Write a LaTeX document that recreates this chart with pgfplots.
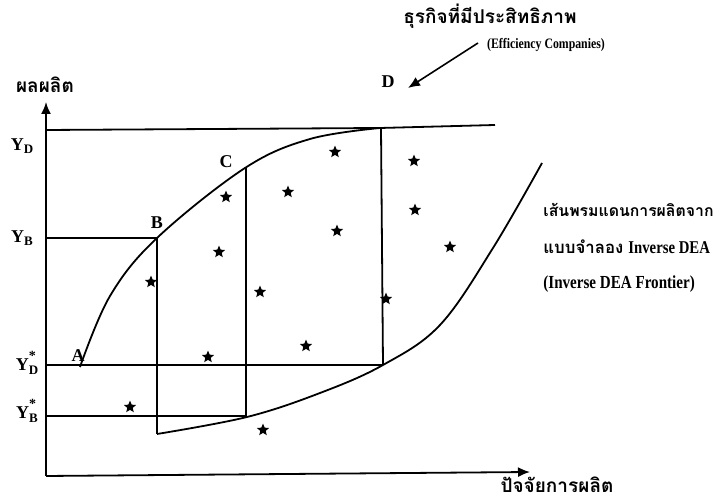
\documentclass[border=0pt]{standalone}
\usepackage{fontspec}
\setmainfont{Liberation Serif}
\newfontfamily\cond[FakeStretch=0.82]{Liberation Serif}
\newfontfamily\thaifont[Script=Thai]{Loma}
\usepackage{pgfplots}
\pgfplotsset{compat=1.18}
\usetikzlibrary{arrows.meta}

% filled five-pointed star
\pgfdeclareplotmark{fstar}{%
  \pgfpathmoveto{\pgfpointpolar{90}{\pgfplotmarksize}}%
  \pgfpathlineto{\pgfpointpolar{126}{0.45\pgfplotmarksize}}%
  \pgfpathlineto{\pgfpointpolar{162}{\pgfplotmarksize}}%
  \pgfpathlineto{\pgfpointpolar{198}{0.45\pgfplotmarksize}}%
  \pgfpathlineto{\pgfpointpolar{234}{\pgfplotmarksize}}%
  \pgfpathlineto{\pgfpointpolar{270}{0.45\pgfplotmarksize}}%
  \pgfpathlineto{\pgfpointpolar{306}{\pgfplotmarksize}}%
  \pgfpathlineto{\pgfpointpolar{342}{0.45\pgfplotmarksize}}%
  \pgfpathlineto{\pgfpointpolar{18}{\pgfplotmarksize}}%
  \pgfpathlineto{\pgfpointpolar{54}{0.45\pgfplotmarksize}}%
  \pgfpathclose\pgfusepathqfill}

\newcommand{\lbl}[1]{{\fontsize{9}{9}\selectfont\bfseries #1}}
\newcommand{\sub}[1]{\raisebox{-0.45ex}{\fontsize{6.5}{6.5}\selectfont\bfseries #1}}
\newcommand{\yst}[1]{\lbl{Y\rlap{\raisebox{1.25ex}{\fontsize{7}{7}\selectfont *}}\sub{#1}}}
\newcommand{\thai}[1]{{\thaifont\bfseries #1}}

\begin{document}
\begin{tikzpicture}
\begin{axis}[
  scale only axis, width=359.5pt, height=250.5pt,
  xmin=0, xmax=719, ymin=0, ymax=501, y dir=reverse,
  hide axis, clip=false,
  ln/.style={black, solid, line width=0.9pt, no markers},
  arr/.style={ln, -{Latex[length=6pt,width=5pt]}}]
  % axes
  \addplot[arr] coordinates {(46,476)(46,102)};
  \addplot[arr] coordinates {(46,476)(530,472)};
  % top line Y_D
  \addplot[ln] coordinates {(46,130)(380,128)(495,125)};
  % efficient frontier A-B-C-D
  \addplot[ln, smooth, tension=0.6] coordinates {(80,367)(110,296)(157,238)(245,168)(310,139)(380,128)};
  % inverse DEA frontier
  \addplot[ln, smooth, tension=0.6] coordinates {(157,434)(247,417)(320,393)(383,365)(440,325)(493,248)(542,163)};
  % guide lines
  \addplot[ln] coordinates {(46,238)(157,238)};
  \addplot[ln] coordinates {(46,365)(383,365)};
  \addplot[ln] coordinates {(46,416)(247,416)};
  \addplot[ln] coordinates {(157,238)(157,434)};
  \addplot[ln] coordinates {(246,168)(246,416)};
  \addplot[ln] coordinates {(381,128)(383,365)};
  % arrow to D
  \addplot[arr, line width=0.8pt] coordinates {(478,43)(408,88)};
  % companies
  \addplot[only marks, black, mark=fstar, mark size=3.2pt] coordinates {
    (335,152)(414,161)(288,192)(226,197)(415,210)(337,231)(219,252)(450,247)
    (151,282)(260,292)(386,299)(208,357)(306,346)(130,407)(263,430)};
  % labels
  \node at (axis cs:45,85) {\thai{\fontsize{9.5}{9.5}\selectfont ผลผลิต}};
  \node at (axis cs:22,146) {\lbl{Y\sub{D}}};
  \node at (axis cs:22,238) {\lbl{Y\sub{B}}};
  \node at (axis cs:27,363) {\yst{D}};
  \node at (axis cs:27,411) {\yst{B}};
  \node at (axis cs:78,356) {\lbl{A}};
  \node at (axis cs:157,223) {\lbl{B}};
  \node at (axis cs:226,162) {\lbl{C}};
  \node at (axis cs:388,82) {\lbl{D}};
  \node at (axis cs:490,16) {\thai{\fontsize{9.5}{9.5}\selectfont ธุรกิจที่มีประสิทธิภาพ}};
  \node at (axis cs:546,45) {\cond\bfseries\fontsize{7.2}{7.2}\selectfont (Efficiency Companies)};
  \node[anchor=west, inner sep=0pt] at (axis cs:543,210) {\thai{\fontsize{7.9}{7.9}\selectfont เส้นพรมแดนการผลิตจาก}};
  \node[anchor=west, inner sep=0pt] at (axis cs:543,247) {\thai{\fontsize{8.4}{8.4}\selectfont แบบจำลอง} {\cond\bfseries\fontsize{9}{9}\selectfont Inverse DEA}};
  \node[anchor=west, inner sep=0pt] at (axis cs:543,284) {\cond\bfseries\fontsize{9.2}{9.2}\selectfont (Inverse DEA Frontier)};
  \node[anchor=base, inner sep=0pt] at (axis cs:557,493) {\thai{\fontsize{9.5}{9.5}\selectfont ปัจจัยการผลิต}};
\end{axis}
\pgfresetboundingbox
\path[use as bounding box] (current axis.south west) rectangle (current axis.north east);
\end{tikzpicture}
\end{document}
